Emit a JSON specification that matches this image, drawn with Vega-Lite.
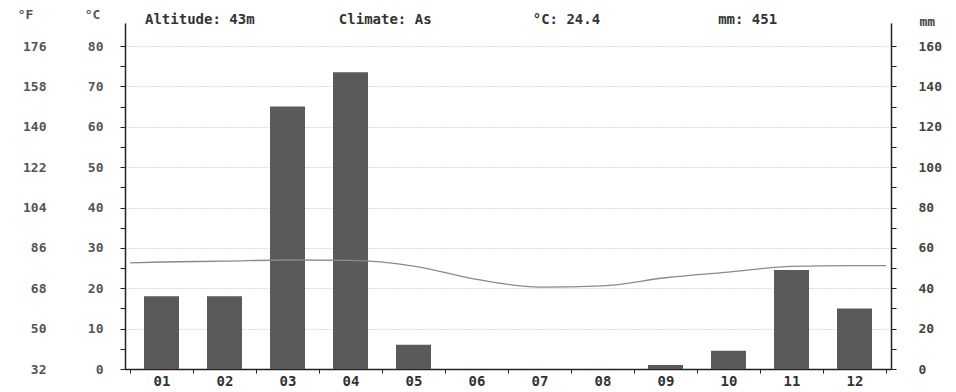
{
  "$schema": "https://vega.github.io/schema/vega-lite/v6.json",
  "width": 766,
  "height": 346,
  "autosize": {"type": "none"},
  "padding": {"left": 125, "top": 23, "right": 65, "bottom": 23},
  "background": "white",
  "title": {
    "text": "Altitude: 43m\u00a0\u00a0\u00a0\u00a0\u00a0\u00a0\u00a0\u00a0\u00a0\u00a0Climate: As\u00a0\u00a0\u00a0\u00a0\u00a0\u00a0\u00a0\u00a0\u00a0\u00a0\u00a0\u00a0°C: 24.4\u00a0\u00a0\u00a0\u00a0\u00a0\u00a0\u00a0\u00a0\u00a0\u00a0\u00a0\u00a0\u00a0\u00a0mm: 451",
    "anchor": "start",
    "frame": "group",
    "dx": 20,
    "offset": -19,
    "font": "DejaVu Sans Mono",
    "fontSize": 14,
    "fontWeight": "bold",
    "color": "#333333"
  },
  "datasets": {
    "months": [
      {"month": 1, "precip": 36},
      {"month": 2, "precip": 36},
      {"month": 3, "precip": 130},
      {"month": 4, "precip": 147},
      {"month": 5, "precip": 12},
      {"month": 6, "precip": 0},
      {"month": 7, "precip": 0},
      {"month": 8, "precip": 0},
      {"month": 9, "precip": 2},
      {"month": 10, "precip": 9},
      {"month": 11, "precip": 49},
      {"month": 12, "precip": 30}
    ],
    "temps": [
      {"month": 0.5, "temp": 26.3},
      {"month": 1, "temp": 26.5},
      {"month": 2, "temp": 26.7},
      {"month": 3, "temp": 27.0},
      {"month": 4, "temp": 26.9},
      {"month": 5, "temp": 25.5},
      {"month": 6, "temp": 22.2},
      {"month": 7, "temp": 20.3},
      {"month": 8, "temp": 20.6},
      {"month": 9, "temp": 22.6},
      {"month": 10, "temp": 24.0},
      {"month": 11, "temp": 25.4},
      {"month": 12, "temp": 25.6},
      {"month": 12.5, "temp": 25.6}
    ]
  },
  "encoding": {
    "x": {
      "field": "month",
      "type": "quantitative",
      "scale": {"domain": [0.5, 12.5], "nice": false, "zero": false},
      "axis": {
        "title": null,
        "values": [0.5, 1, 1.5, 2, 2.5, 3, 3.5, 4, 4.5, 5, 5.5, 6, 6.5, 7, 7.5, 8, 8.5, 9, 9.5, 10, 10.5, 11, 11.5, 12, 12.5],
        "labelExpr": "datum.value % 1 == 0 ? (datum.value < 10 ? '0' : '') + datum.value : ''",
        "tickOpacity": {"condition": {"test": "datum.value % 1 == 0", "value": 0}, "value": 1},
        "tickSize": 4,
        "tickColor": "#222222",
        "domainColor": "#222222",
        "domainWidth": 1.5,
        "labelFont": "DejaVu Sans Mono",
        "labelFontSize": 14,
        "labelFontWeight": "bold",
        "labelColor": "#333333",
        "labelPadding": 1,
        "labelFlush": false,
        "labelOverlap": false,
        "grid": false
      }
    }
  },
  "layer": [
    {
      "data": {"name": "months"},
      "mark": {"type": "bar", "width": 35, "color": "#5a5a5a"},
      "encoding": {
        "y": {
          "field": "precip",
          "type": "quantitative",
          "scale": {"domain": [0, 171.4], "nice": false},
          "axis": {
            "orient": "right",
            "title": "mm",
            "titleAngle": 0,
            "titleX": 28,
            "titleY": -2,
            "titleAlign": "left",
            "titleBaseline": "middle",
            "titleFont": "DejaVu Sans Mono",
            "titleFontSize": 13,
            "titleFontWeight": "bold",
            "titleColor": "#444444",
            "values": [0, 10, 20, 30, 40, 50, 60, 70, 80, 90, 100, 110, 120, 130, 140, 150, 160],
            "labelExpr": "datum.value % 20 == 0 ? datum.value : ''",
            "tickSize": 5,
            "tickColor": "#222222",
            "domainColor": "#222222",
            "domainWidth": 1.5,
            "labelPadding": 22,
            "labelAlign": "left",
            "labelFont": "DejaVu Sans Mono",
            "labelFontSize": 13,
            "labelFontWeight": "bold",
            "labelColor": "#444444",
            "labelOverlap": false,
            "labelFlush": false,
            "grid": false
          }
        }
      }
    },
    {
      "data": {"name": "temps"},
      "mark": {"type": "line", "color": "#8a8a8a", "strokeWidth": 1.3, "interpolate": "monotone"},
      "encoding": {
        "y": {
          "field": "temp",
          "type": "quantitative",
          "scale": {"domain": [0, 85.7], "nice": false},
          "axis": {
            "orient": "left",
            "title": "°C",
            "titleAngle": 0,
            "titleX": -33,
            "titleY": -9,
            "titleAlign": "center",
            "titleBaseline": "middle",
            "titleFont": "DejaVu Sans Mono",
            "titleFontSize": 13,
            "titleFontWeight": "bold",
            "titleColor": "#555555",
            "values": [0, 5, 10, 15, 20, 25, 30, 35, 40, 45, 50, 55, 60, 65, 70, 75, 80],
            "labelExpr": "datum.value % 10 == 0 ? datum.value : ''",
            "tickSize": 5,
            "tickColor": "#222222",
            "domainColor": "#222222",
            "domainWidth": 1.5,
            "labelPadding": 17,
            "labelFont": "DejaVu Sans Mono",
            "labelFontSize": 13,
            "labelFontWeight": "bold",
            "labelColor": "#555555",
            "labelOverlap": false,
            "labelFlush": false,
            "grid": true,
            "gridColor": "#bbbbbb",
            "gridDash": [1, 2],
            "gridWidth": 1,
            "gridOpacity": {"condition": {"test": "datum.value % 10 != 0 || datum.value == 0", "value": 0}, "value": 1}
          }
        }
      }
    },
    {
      "data": {"name": "temps"},
      "mark": {"type": "line", "opacity": 0, "interpolate": "monotone"},
      "encoding": {
        "y": {
          "field": "temp",
          "type": "quantitative",
          "scale": {"domain": [0, 85.7], "nice": false},
          "axis": {
            "orient": "left",
            "title": "°F",
            "titleAngle": 0,
            "titleX": -100,
            "titleY": -9,
            "titleAlign": "center",
            "titleBaseline": "middle",
            "titleFont": "DejaVu Sans Mono",
            "titleFontSize": 13,
            "titleFontWeight": "bold",
            "titleColor": "#555555",
            "values": [0, 10, 20, 30, 40, 50, 60, 70, 80],
            "labelExpr": "format(datum.value * 1.8 + 32, 'd')",
            "ticks": false,
            "domain": false,
            "labelPadding": 79,
            "labelFont": "DejaVu Sans Mono",
            "labelFontSize": 13,
            "labelFontWeight": "bold",
            "labelColor": "#555555",
            "labelOverlap": false,
            "labelFlush": false,
            "grid": false
          }
        }
      }
    }
  ],
  "resolve": {"scale": {"y": "independent"}, "axis": {"y": "independent"}},
  "config": {"view": {"stroke": null}}
}
